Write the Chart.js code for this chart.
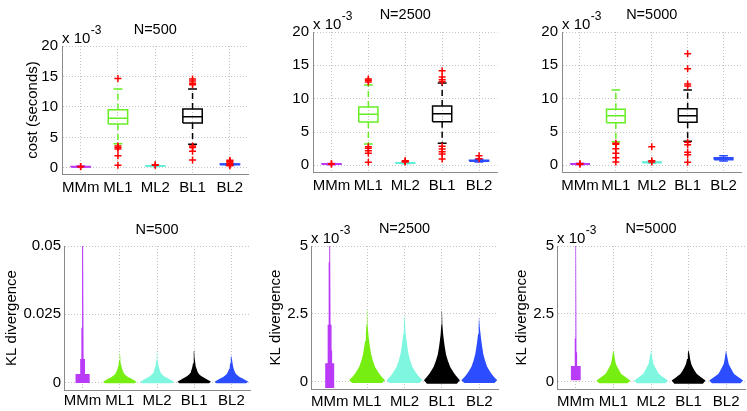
<!DOCTYPE html>
<html lang="en">
<head>
    <meta charset="UTF-8">
    <title>Cost and KL divergence</title>
    <script src="https://cdn.jsdelivr.net/npm/chart.js"></script>
    <style>
        body { margin: 0; background: #fff; width: 747px; height: 411px; overflow: hidden; position: relative; }
        canvas { position: absolute; }
    </style>
</head>
<body>
    <canvas id="cost500"></canvas>
    <canvas id="cost2500"></canvas>
    <canvas id="cost5000"></canvas>
    <canvas id="kl500"></canvas>
    <canvas id="kl2500"></canvas>
    <canvas id="kl5000"></canvas>

    <script>
        // ---- data ----
        const categories = ['MMm', 'ML1', 'ML2', 'BL1', 'BL2'];
        const sizeTitles = ['N=500', 'N=2500', 'N=5000'];

        const costTicks = [0, 5, 10, 15, 20];          // x 10^-3 seconds
        const klTicks500 = [0, 25, 50];                // x 10^-3
        const klTickLabels500 = ['0', '0.025', '0.05'];
        const klTicksLarge = [0, 2.5, 5];              // x 10^-3
        const klTickLabelsLarge = ['0', '2.5', '5'];

        // box stats per category: [lower whisker, q1, median, q3, upper whisker]  (x 10^-3 s)
        const cost500 = [
            [0.1, 0.16, 0.2, 0.24, 0.3],
            [3.95, 7.2, 8.15, 9.55, 12.95],
            [0.25, 0.3, 0.33, 0.36, 0.42],
            [3.9, 7.35, 8.4, 9.65, 12.95],
            [0.45, 0.52, 0.58, 0.64, 0.7]
        ];
        const cost2500 = [
            [0.1, 0.15, 0.18, 0.22, 0.28],
            [3.2, 6.5, 7.65, 8.75, 12.05],
            [0.25, 0.3, 0.34, 0.38, 0.45],
            [3.3, 6.55, 7.75, 8.9, 12.35],
            [0.5, 0.6, 0.68, 0.75, 0.9]
        ];
        const cost5000 = [
            [0.1, 0.15, 0.2, 0.24, 0.3],
            [3.55, 6.4, 7.45, 8.4, 11.3],
            [0.3, 0.38, 0.45, 0.5, 0.6],
            [3.6, 6.45, 7.45, 8.5, 11.3],
            [0.65, 0.85, 0.98, 1.15, 1.45]
        ];

        const outliers500 = [
            [0.2, 0.25],
            [14.65, 3.6, 3.35, 3.1, 2.0, 0.45],
            [0.45, 0.5],
            [14.6, 14.25, 13.9, 13.65, 3.6, 3.35, 2.75, 1.3],
            [0.35, 0.5, 0.75, 0.95, 1.1, 1.25]
        ];
        const outliers2500 = [
            [0.2, 0.25],
            [12.95, 12.75, 12.5, 2.8, 2.55, 2.2, 1.8, 0.45],
            [0.5, 0.6, 0.7],
            [14.2, 13.25, 12.85, 12.55, 2.85, 2.45, 2.05, 1.7, 0.95],
            [1.0, 1.45]
        ];
        const outliers5000 = [
            [0.2, 0.25],
            [3.3, 3.15, 2.5, 1.8, 1.15, 0.5],
            [2.8, 0.7, 0.5],
            [16.75, 14.5, 12.2, 11.9, 3.45, 3.1, 1.95, 1.6, 0.45],
            []
        ];

        // KL divergence distributions: [value (x 10^-3), half width of the density]
        const klMMm500 = [[-0.2, 0.19], [3.1, 0.19], [3.1, 0.065], [8.6, 0.065], [8.6, 0.033], [20, 0.033], [20, 0.014], [50, 0.014]];
        const klML1_500 = [[-0.3, 0.4], [0.2, 0.45], [0.5, 0.42], [1, 0.36], [1.5, 0.29], [2, 0.22], [2.5, 0.17], [3, 0.13], [3.5, 0.105], [4, 0.088], [5, 0.062], [6, 0.044], [7, 0.031], [8, 0.021], [9, 0.014], [10, 0.009], [11, 0.005], [11.6, 0.002]];
        const klML2_500 = [[-0.3, 0.4], [0.2, 0.45], [0.5, 0.42], [1, 0.36], [1.5, 0.29], [2, 0.22], [2.5, 0.17], [3, 0.13], [3.5, 0.105], [4, 0.088], [5, 0.062], [6, 0.044], [7, 0.031], [8, 0.021], [9, 0.014], [10, 0.009], [11, 0.005], [11.6, 0.002]];
        const klBL1_500 = [[-0.3, 0.4], [0.2, 0.45], [0.5, 0.42], [1, 0.36], [1.5, 0.29], [2, 0.23], [2.5, 0.17], [3, 0.13], [3.5, 0.105], [4, 0.088], [5, 0.063], [6, 0.045], [7, 0.032], [8, 0.022], [9, 0.015], [10, 0.01], [11, 0.006], [12, 0.002]];
        const klBL2_500 = [[-0.3, 0.4], [0.2, 0.45], [0.5, 0.42], [1, 0.36], [1.5, 0.29], [2, 0.22], [2.5, 0.17], [3, 0.13], [3.5, 0.105], [4, 0.088], [5, 0.062], [6, 0.044], [7, 0.031], [8, 0.021], [9, 0.014], [10, 0.009], [11, 0.005], [11.6, 0.002]];

        const klMMm2500 = [[-0.23, 0.12], [0.68, 0.12], [0.68, 0.065], [1.15, 0.065], [1.15, 0.05], [2.1, 0.05], [2.1, 0.028], [4.4, 0.028], [4.4, 0.012], [5, 0.012]];
        const klML1_2500 = [[-0.05, 0.4], [0.05, 0.48], [0.16, 0.4], [0.3, 0.32], [0.41, 0.27], [0.55, 0.21], [0.77, 0.155], [1.0, 0.11], [1.27, 0.078], [1.5, 0.055], [1.76, 0.033], [2.1, 0.017], [2.4, 0.008], [2.65, 0.003]];
        const klML2_2500 = [[-0.05, 0.4], [0.05, 0.48], [0.16, 0.4], [0.3, 0.32], [0.41, 0.27], [0.55, 0.21], [0.77, 0.155], [1.0, 0.11], [1.27, 0.078], [1.5, 0.055], [1.76, 0.033], [2.1, 0.017], [2.4, 0.008], [2.65, 0.003]];
        const klBL1_2500 = [[-0.08, 0.4], [0.05, 0.48], [0.16, 0.41], [0.3, 0.33], [0.41, 0.28], [0.55, 0.22], [0.77, 0.16], [1.0, 0.11], [1.27, 0.078], [1.5, 0.055], [1.76, 0.033], [2.1, 0.017], [2.4, 0.008], [2.6, 0.003]];
        const klBL2_2500 = [[-0.05, 0.4], [0.05, 0.48], [0.16, 0.4], [0.3, 0.32], [0.41, 0.27], [0.55, 0.21], [0.77, 0.155], [1.0, 0.11], [1.27, 0.078], [1.5, 0.055], [1.76, 0.033], [2.1, 0.017], [2.4, 0.008], [2.65, 0.003]];

        const klMMm5000 = [[0.05, 0.13], [0.58, 0.13], [0.58, 0.035], [1.08, 0.035], [1.08, 0.025], [1.6, 0.025], [1.6, 0.016], [2.15, 0.016], [2.15, 0.008], [5, 0.008]];
        const klML1_5000 = [[-0.06, 0.38], [0.04, 0.45], [0.16, 0.33], [0.28, 0.21], [0.4, 0.16], [0.53, 0.11], [0.65, 0.067], [0.84, 0.04], [1.03, 0.02], [1.15, 0.005]];
        const klML2_5000 = [[-0.06, 0.38], [0.04, 0.45], [0.16, 0.33], [0.28, 0.21], [0.4, 0.16], [0.53, 0.11], [0.65, 0.067], [0.84, 0.04], [1.03, 0.02], [1.15, 0.005]];
        const klBL1_5000 = [[-0.08, 0.38], [0.04, 0.45], [0.16, 0.33], [0.28, 0.22], [0.4, 0.16], [0.53, 0.11], [0.65, 0.07], [0.84, 0.04], [1.03, 0.02], [1.18, 0.005]];
        const klBL2_5000 = [[-0.06, 0.38], [0.04, 0.45], [0.16, 0.33], [0.28, 0.21], [0.4, 0.16], [0.53, 0.11], [0.65, 0.067], [0.84, 0.04], [1.03, 0.02], [1.15, 0.005]];

        // ---- style ----
        const seriesColors = ['#b93af7', '#77ee11', '#7ff7e0', '#000000', '#2b4cff'];
        const boxColors = ['#b93af7', '#66ee22', '#60f0d8', '#000000', '#2b4cff'];
        const FONT = '"Liberation Sans", Arial, Helvetica, sans-serif';
        const TICK_FONT = { family: FONT, size: 15 };
        const AXIS_TITLE_FONT = { family: FONT, size: 15 };

        const BOX_HW = 0.26, CAP_HW = 0.12;

        // titles and the "x 10^-3" note above each panel
        const panelText = {
            id: 'panelText',
            afterDraw(chart, args, opts) {
                const { ctx, chartArea: { left, right, top } } = chart;
                ctx.save();
                ctx.fillStyle = '#000';
                ctx.textBaseline = 'alphabetic';
                ctx.font = '14.5px ' + FONT;
                ctx.textAlign = 'center';
                ctx.fillText(opts.title, (left + right) / 2, top - opts.titleGap);
                if (opts.exponent) {
                    ctx.textAlign = 'left';
                    ctx.font = '15px ' + FONT;
                    ctx.fillText('x 10', left, top - 3);
                    const w = ctx.measureText('x 10').width;
                    ctx.font = '12px ' + FONT;
                    ctx.fillText(opts.exponent, left + w + 0.5, top - 12.5);
                }
                ctx.restore();
            }
        };

        function xScale(p) {
            return {
                type: 'linear', min: 0.5, max: 5.5,
                afterBuildTicks: s => { s.ticks = categories.map((c, i) => ({ value: i + 1 })); },
                afterFit: s => { s.height = p.xh; },
                ticks: { callback: v => categories[Math.round(v) - 1], padding: p.xPad, maxRotation: 0, autoSkip: false, color: '#000', font: TICK_FONT },
                grid: { color: '#c4c4c4', drawTicks: false },
                border: { color: '#8a8a8a', dash: [1, 2] }
            };
        }

        function yScale(p, min, max, ticks, labels, title, titlePad) {
            return {
                min: min, max: max,
                afterBuildTicks: s => { s.ticks = ticks.map(v => ({ value: v })); },
                afterFit: s => { s.width = p.yw; },
                ticks: { callback: (v, i) => labels[i], padding: p.yPad, autoSkip: false, color: '#000', font: TICK_FONT },
                grid: { color: '#c4c4c4', drawTicks: false },
                border: { color: '#8a8a8a', dash: [1, 2] },
                title: { display: !!title, text: title, color: '#000', font: AXIS_TITLE_FONT, padding: { top: titlePad, bottom: 0 } }
            };
        }

        function seg(pts, color, dash) {
            return {
                data: pts.map(([x, y]) => ({ x, y })),
                borderColor: color, borderWidth: 1.5, borderDash: dash || [],
                pointRadius: 0, fill: false, tension: 0, order: 1
            };
        }

        function boxDatasets(stats, outliers) {
            const ds = [];
            stats.forEach(([lo, q1, md, q3, hi], i) => {
                const x = i + 1, c = boxColors[i];
                ds.push(seg([[x - BOX_HW, q1], [x + BOX_HW, q1], [x + BOX_HW, q3], [x - BOX_HW, q3], [x - BOX_HW, q1]], c));
                ds.push(seg([[x - BOX_HW, md], [x + BOX_HW, md]], c));
                ds.push(seg([[x, q3], [x, hi]], c, [6, 4]));
                ds.push(seg([[x, q1], [x, lo]], c, [6, 4]));
                ds.push(seg([[x - CAP_HW, hi], [x + CAP_HW, hi]], c));
                ds.push(seg([[x - CAP_HW, lo], [x + CAP_HW, lo]], c));
                ds.push({
                    data: outliers[i].map(y => ({ x, y })),
                    showLine: false, pointStyle: 'cross', pointRadius: 3.5,
                    borderColor: '#ff0000', backgroundColor: '#ff0000', pointBorderWidth: 1.5, order: 0
                });
            });
            return ds;
        }

        function violinDatasets(profiles) {
            return profiles.map((prof, i) => {
                const x = i + 1;
                const leftSide = prof.map(([y, w]) => ({ x: x - w, y }));
                const rightSide = prof.slice().reverse().map(([y, w]) => ({ x: x + w, y }));
                return {
                    data: leftSide.concat(rightSide),
                    borderColor: seriesColors[i], backgroundColor: seriesColors[i],
                    borderWidth: 0, pointRadius: 0, fill: 'shape', tension: 0
                };
            });
        }

        // ---- layout of the six panels ----
        const panels = [
            { id: 'cost500', left: 0, top: 0, w: 254, h: 196, padTop: 46, padRight: 4, yw: 62, xh: 22, xPad: 5, yPad: 4, titleGap: 12 },
            { id: 'cost2500', left: 251, top: 0, w: 252, h: 194, padTop: 32, padRight: 4, yw: 62, xh: 22, xPad: 5, yPad: 4, titleGap: 13.5 },
            { id: 'cost5000', left: 500, top: 0, w: 247, h: 194, padTop: 32, padRight: 2, yw: 62, xh: 22, xPad: 5, yPad: 4, titleGap: 13.5 },
            { id: 'kl500', left: 0, top: 200, w: 254, h: 211, padTop: 46, padRight: 4, yw: 64, xh: 21, xPad: 2, yPad: 3, titleGap: 12 },
            { id: 'kl2500', left: 249, top: 200, w: 253, h: 211, padTop: 46, padRight: 4, yw: 62, xh: 22, xPad: 4, yPad: 3, titleGap: 12.7 },
            { id: 'kl5000', left: 495, top: 200, w: 252, h: 211, padTop: 46, padRight: 2, yw: 62, xh: 22, xPad: 4, yPad: 3, titleGap: 12.7 }
        ];

        const panelData = [
            { datasets: boxDatasets(cost500, outliers500), y: [-1, 20, costTicks, costTicks.map(String)], yTitle: 'cost (seconds)', titlePad: 23.5, exponent: '-3' },
            { datasets: boxDatasets(cost2500, outliers2500), y: [-1, 20, costTicks, costTicks.map(String)], yTitle: '', titlePad: 0, exponent: '-3' },
            { datasets: boxDatasets(cost5000, outliers5000), y: [-1, 20, costTicks, costTicks.map(String)], yTitle: '', titlePad: 0, exponent: '-3' },
            { datasets: violinDatasets([klMMm500, klML1_500, klML2_500, klBL1_500, klBL2_500]), y: [-2.8, 50, klTicks500, klTickLabels500], yTitle: 'KL divergence', titlePad: 2.5, exponent: '' },
            { datasets: violinDatasets([klMMm2500, klML1_2500, klML2_2500, klBL1_2500, klBL2_2500]), y: [-0.27, 5, klTicksLarge, klTickLabelsLarge], yTitle: 'KL divergence', titlePad: 17.5, exponent: '-3' },
            { datasets: violinDatasets([klMMm5000, klML1_5000, klML2_5000, klBL1_5000, klBL2_5000]), y: [-0.27, 5, klTicksLarge, klTickLabelsLarge], yTitle: 'KL divergence', titlePad: 18, exponent: '-3' }
        ];

        panels.forEach((p, k) => {
            const d = panelData[k];
            const canvas = document.getElementById(p.id);
            canvas.width = p.w;
            canvas.height = p.h;
            canvas.style.left = p.left + 'px';
            canvas.style.top = p.top + 'px';
            new Chart(canvas, {
                type: 'line',
                data: { datasets: d.datasets },
                options: {
                    responsive: false,
                    animation: false,
                    events: [],
                    layout: { padding: { top: p.padTop, right: p.padRight, bottom: 0, left: 0 } },
                    scales: {
                        x: xScale(p),
                        y: yScale(p, d.y[0], d.y[1], d.y[2], d.y[3], d.yTitle, d.titlePad)
                    },
                    plugins: {
                        legend: { display: false },
                        tooltip: { enabled: false },
                        panelText: { title: sizeTitles[k % 3], titleGap: p.titleGap, exponent: d.exponent }
                    }
                },
                plugins: [panelText]
            });
        });
    </script>
</body>
</html>
